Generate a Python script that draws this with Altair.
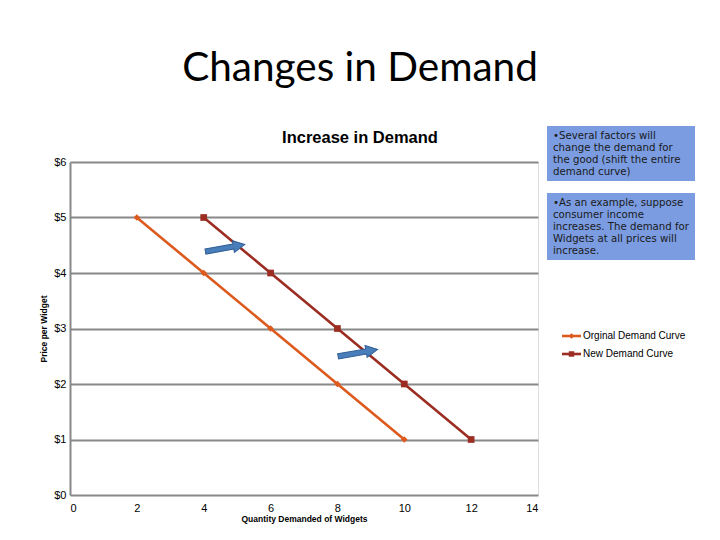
import altair as alt
import pandas as pd

# ---- data ----
orig_qty = [2, 4, 6, 8, 10]
orig_price = [5, 4, 3, 2, 1]
new_qty = [4, 6, 8, 10, 12]
new_price = [5, 4, 3, 2, 1]
series_names = ["Orginal Demand Curve", "New Demand Curve"]
x_ticks = [0, 2, 4, 6, 8, 10, 12, 14]
y_ticks = [0, 1, 2, 3, 4, 5, 6]
arrow_x = [4.64, 8.61]
arrow_y = [4.45, 2.56]
box1_lines = ["\u2022Several factors will", "change the demand for",
              "the good (shift the entire", "demand curve)"]
box2_lines = ["\u2022As an example, suppose", "consumer income",
              "increases. The demand for", "Widgets at all prices will",
              "increase."]

ORANGE = "#DD5A1E"
RED = "#9B2D22"
GRID = "#888888"

df = pd.DataFrame({
    "qty": orig_qty + new_qty,
    "price": orig_price + new_price,
    "series": [series_names[0]] * len(orig_qty) + [series_names[1]] * len(new_qty),
})

xs = alt.Scale(domain=[0, 14], nice=False)
ys = alt.Scale(domain=[0, 6], nice=False)

x_enc = alt.X("qty:Q", scale=xs, axis=alt.Axis(
    values=x_ticks, grid=False, domain=False, ticks=False, labelPadding=7,
    labelFont="Liberation Sans", labelFontSize=11, labelColor="black",
    title="Quantity Demanded of Widgets", titleFont="Liberation Sans",
    titleFontSize=8.5, titleFontWeight="bold", titleColor="black", titlePadding=1))
y_enc = alt.Y("price:Q", scale=ys, axis=alt.Axis(
    values=y_ticks, grid=True, gridColor=GRID, gridWidth=2, domain=True,
    domainColor=GRID, domainWidth=2, ticks=False, labelPadding=4,
    labelExpr="'$' + datum.value", labelFont="Liberation Sans", labelFontSize=11,
    labelColor="black", title="Price per Widget", titleFont="Liberation Sans",
    titleFontSize=8.5, titleFontWeight="bold", titleColor="black", titlePadding=5))

color = alt.Color("series:N", scale=alt.Scale(domain=series_names, range=[ORANGE, RED]), legend=None)

lines = alt.Chart(df).mark_line(strokeWidth=2.6, interpolate="monotone").encode(
    x=x_enc, y=y_enc, color=color, detail="series:N")
pts = alt.Chart(df).mark_point(filled=True, opacity=1, size=45).encode(
    x="qty:Q", y="price:Q", color=color,
    shape=alt.Shape("series:N", scale=alt.Scale(domain=series_names, range=["diamond", "square"]), legend=None))

arrow_path = "M-1,-0.13L0.42,-0.13L0.42,-0.3L1,0L0.42,0.3L0.42,0.13L-1,0.13Z"
arrows = alt.Chart(pd.DataFrame({"qty": arrow_x, "price": arrow_y})).mark_point(
    shape=arrow_path, filled=True, fill="#4A7EBB", stroke="#2F5E94", strokeWidth=1,
    opacity=1, size=1600, angle=350).encode(x="qty:Q", y="price:Q")

title = alt.Chart(pd.DataFrame({"t": ["Changes in Demand"]})).mark_text(
    font="Lato", fontSize=40.5, color="black", align="center", baseline="middle").encode(
    text="t:N", x=alt.value(290), y=alt.value(-93))
subtitle = alt.Chart(pd.DataFrame({"t": ["Increase in Demand"]})).mark_text(
    font="Liberation Sans", fontWeight="bold", fontSize=16.5, color="black",
    align="center", baseline="middle").encode(text="t:N", x=alt.value(290), y=alt.value(-24))

BOX = "#7B9CE1"
box1 = alt.Chart(pd.DataFrame({"a": [0]})).mark_rect(color=BOX).encode(
    x=alt.value(477), x2=alt.value(625), y=alt.value(-36), y2=alt.value(19))
box2 = alt.Chart(pd.DataFrame({"a": [0]})).mark_rect(color=BOX).encode(
    x=alt.value(477), x2=alt.value(625), y=alt.value(31), y2=alt.value(98))

def box_text(lines_, y0):
    layers = []
    for i, s in enumerate(lines_):
        layers.append(alt.Chart(pd.DataFrame({"t": [s]})).mark_text(
            font="DejaVu Sans", fontSize=10.2, color="#1a1a1a", align="left",
            baseline="middle").encode(text="t:N", x=alt.value(483), y=alt.value(y0 + 12 * i)))
    return layers

leg_layers = []
for i, (name, c, shp) in enumerate(zip(series_names, [ORANGE, RED], ["diamond", "square"])):
    yy = 174 + 18 * i
    leg_layers.append(alt.Chart(pd.DataFrame({"a": [0]})).mark_rule(color=c, strokeWidth=2.6).encode(
        x=alt.value(492), x2=alt.value(511), y=alt.value(yy)))
    leg_layers.append(alt.Chart(pd.DataFrame({"a": [0]})).mark_point(
        shape=shp, filled=True, color=c, opacity=1, size=30).encode(x=alt.value(501.5), y=alt.value(yy)))
    leg_layers.append(alt.Chart(pd.DataFrame({"t": [name]})).mark_text(
        font="Liberation Sans", fontSize=10, color="black", align="left", baseline="middle").encode(
        text="t:N", x=alt.value(513), y=alt.value(yy)))

chart = alt.layer(
    lines, pts, arrows, title, subtitle, box1, box2,
    *box_text(box1_lines, -26), *box_text(box2_lines, 41), *leg_layers
).properties(
    width=468, height=333,
    autosize=alt.AutoSizeParams(type="none"),
    padding={"left": 62, "top": 154, "right": 170, "bottom": 30},
).configure_view(stroke=None).configure(background="white")

chart.save("out.html", embed_options={"renderer": "svg", "actions": False})
